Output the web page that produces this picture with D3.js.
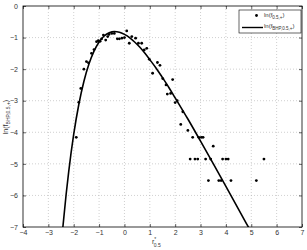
<!DOCTYPE html>
<html>
<head>
<meta charset="utf-8">
<script src="https://cdn.jsdelivr.net/npm/d3@7"></script>
<style>
  body { margin: 0; background: #fff; }
  svg { font-family: "Liberation Sans", Arial, sans-serif; }
  .tick text { font-size: 7px; fill: #333; }
</style>
</head>
<body>
<svg id="chart"></svg>
<script>
// measured points ln(f_0.5,+)
var dataX = [-1.90,-1.80,-1.72,-1.60,-1.50,-1.42,-1.30,-1.20,-1.10,-1.03,-0.96,-0.90,-0.83,-0.74,-0.66,-0.61,-0.50,-0.40,
             -0.28,-0.20,-0.10,0.00,0.09,0.19,0.29,0.44,0.55,0.68,0.78,0.88,0.98,1.11,1.30,1.40,1.51,1.64,1.69,1.82,1.90,
             2.00,2.08,2.30,2.22,2.50,2.69,2.93,3.03,3.10,3.50,2.59,2.78,2.89,3.20,3.40,3.87,4.00,4.09,5.50,3.31,3.72,3.81,4.20,5.20];
var dataY = [-4.16,-3.05,-2.61,-2.00,-1.76,-1.80,-1.50,-1.38,-1.13,-1.10,-1.12,-1.04,-0.92,-1.08,-0.97,-0.90,-0.87,-0.87,
             -1.04,-1.04,-1.02,-1.00,-0.79,-1.18,-0.97,-1.02,-1.18,-1.18,-1.39,-1.34,-1.69,-2.13,-1.79,-1.88,-2.30,-2.50,-2.79,-2.77,-2.33,
             -3.06,-3.00,-3.35,-3.75,-3.94,-4.16,-4.16,-4.16,-4.16,-4.44,-4.85,-4.85,-4.85,-4.85,-4.85,-4.85,-4.85,-4.85,-4.85,-5.53,-5.53,-5.53,-5.53,-5.53];

// BHP curve
var curveX = [-2.43,-2.3,-2.2,-2.0,-1.8,-1.6,-1.4,-1.2,-1.0,-0.8,-0.6,-0.4,-0.2,0,0.2,0.4,0.6,0.8,1.0,1.25,1.5,1.75,2.0,2.5,3.0,3.5,4.0,4.5,4.85,4.9];
var curveY = [-7.02,-5.97,-5.26,-4.06,-3.12,-2.39,-1.84,-1.43,-1.14,-0.95,-0.85,-0.81,-0.83,-0.90,-1.00,-1.14,-1.30,-1.49,-1.70,-1.97,-2.27,-2.58,-2.91,-3.58,-4.28,-4.99,-5.71,-6.44,-6.95,-7.02];

var xTicks = [-4,-3,-2,-1,0,1,2,3,4,5,6,7];
var yTicks = [0,-1,-2,-3,-4,-5,-6,-7];

var W = 307, H = 250;
var pL = 23, pR = 302, pT = 6, pB = 227;

var svg = d3.select("#chart").attr("width", W).attr("height", H);

var x = d3.scaleLinear().domain([-4, 7]).range([pL, pR]);
var y = d3.scaleLinear().domain([-7, 0]).range([pB, pT]);

svg.append("defs").append("clipPath").attr("id", "clip")
  .append("rect").attr("x", pL).attr("y", pT).attr("width", pR-pL).attr("height", pB-pT);

// grid
var grid = svg.append("g").attr("stroke", "#b0b0b0").attr("stroke-width", 0.6).attr("stroke-dasharray", "1,2");
grid.selectAll("line.gx").data(xTicks.slice(1, -1)).enter().append("line")
  .attr("x1", x).attr("x2", x).attr("y1", pT).attr("y2", pB);
grid.selectAll("line.gy").data(yTicks.slice(1, -1)).enter().append("line")
  .attr("y1", y).attr("y2", y).attr("x1", pL).attr("x2", pR);

// axes, ticks inward
var tl = 3;
svg.append("g").attr("transform", "translate(0," + pB + ")")
  .call(d3.axisBottom(x).tickValues(xTicks).tickSize(-tl).tickPadding(3).tickFormat(d3.format("d")))
  .call(function(g){ g.select(".domain").remove(); });
svg.append("g").attr("transform", "translate(0," + pT + ")")
  .call(d3.axisTop(x).tickValues(xTicks).tickSize(-tl).tickFormat(""))
  .call(function(g){ g.select(".domain").remove(); });
svg.append("g").attr("transform", "translate(" + pL + ",0)")
  .call(d3.axisLeft(y).tickValues(yTicks).tickSize(-tl).tickPadding(5).tickFormat(d3.format("d")))
  .call(function(g){ g.select(".domain").remove(); });
svg.append("g").attr("transform", "translate(" + pR + ",0)")
  .call(d3.axisRight(y).tickValues(yTicks).tickSize(-tl).tickFormat(""))
  .call(function(g){ g.select(".domain").remove(); });
svg.selectAll(".tick line").attr("stroke", "#000").attr("stroke-width", 0.6);

svg.append("rect").attr("x", pL).attr("y", pT).attr("width", pR-pL).attr("height", pB-pT)
  .attr("fill", "none").attr("stroke", "#000").attr("stroke-width", 0.8);

// curve
var curve = curveX.map(function(v, i){ return [v, curveY[i]]; });
svg.append("path").datum(curve).attr("clip-path", "url(#clip)")
  .attr("fill", "none").attr("stroke", "#000").attr("stroke-width", 1.6)
  .attr("d", d3.line().x(function(d){ return x(d[0]); }).y(function(d){ return y(d[1]); }).curve(d3.curveMonotoneX));

// points
svg.append("g").selectAll("circle").data(dataX).enter().append("circle")
  .attr("cx", function(d){ return x(d); })
  .attr("cy", function(d, i){ return y(dataY[i]); })
  .attr("r", 1.4).attr("fill", "#000");

// legend
var lg = svg.append("g");
lg.append("rect").attr("x", 239).attr("y", 10).attr("width", 62).attr("height", 23)
  .attr("fill", "#fff").attr("stroke", "#000").attr("stroke-width", 0.6);
lg.append("circle").attr("cx", 256.5).attr("cy", 15.5).attr("r", 1.4).attr("fill", "#000");
lg.append("line").attr("x1", 242).attr("x2", 263).attr("y1", 27.5).attr("y2", 27.5)
  .attr("stroke", "#000").attr("stroke-width", 1.4);
var t1 = lg.append("text").attr("x", 264).attr("y", 17).attr("font-size", 6).attr("fill", "#333");
t1.append("tspan").text("ln(f");
t1.append("tspan").attr("font-size", 4.5).attr("dy", 1.5).text("0.5,+");
t1.append("tspan").attr("dy", -1.5).text(")");
var t2 = lg.append("text").attr("x", 264).attr("y", 28).attr("font-size", 6).attr("fill", "#333");
t2.append("tspan").text("ln(f");
t2.append("tspan").attr("font-size", 4.5).attr("dy", 1.5).text("BHP,0.5,+");
t2.append("tspan").attr("dy", -1.5).text(")");

// axis labels
var xl = svg.append("text").attr("x", 152).attr("y", 244).attr("font-size", 7).attr("fill", "#333");
xl.append("tspan").text("r");
xl.append("tspan").attr("font-size", 5).attr("dy", -3).text("*");
xl.append("tspan").attr("font-size", 5).attr("dx", -2.5).attr("dy", 6).text("0.5");

var yl = svg.append("text").attr("transform", "translate(8,117) rotate(-90)")
  .attr("text-anchor", "middle").attr("font-size", 7).attr("fill", "#333");
yl.append("tspan").text("ln(f");
yl.append("tspan").attr("font-size", 5).attr("dy", 1.8).text("BHP,0.5,+");
yl.append("tspan").attr("dy", -1.8).text(")");
</script>
</body>
</html>
